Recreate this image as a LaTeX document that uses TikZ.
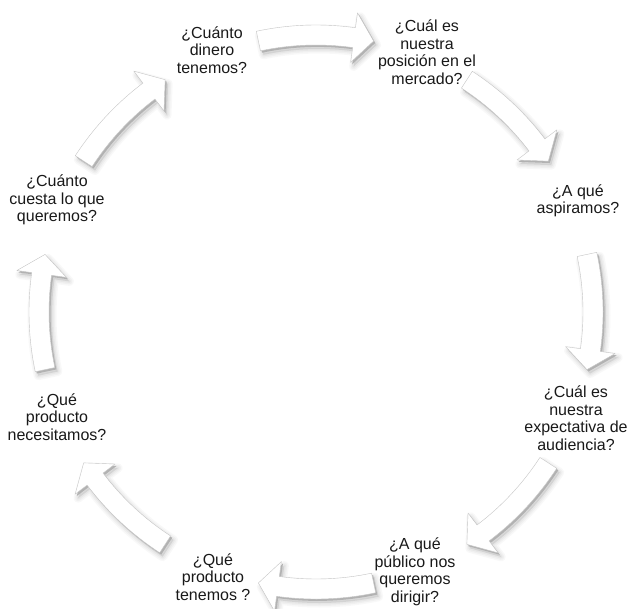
\documentclass[tikz,border=0pt]{standalone}
\usepackage{fontspec}
\setmainfont{Liberation Sans}
\usetikzlibrary{calc}
\tikzset{
  lbl/.style={align=center, font=\fontsize{16}{17.5}\selectfont, inner sep=0pt, text=black!90},
  arrshadow/.style={fill=gray, draw=gray, line join=round, shift={(3pt,-4pt)}},
  arrbevel/.style={fill=gray!60, shift={(1.6pt,-1.9pt)}},
  arrface/.style={fill=white, draw=gray!45, line width=0.4pt, line join=round},
}
\newcommand{\cycarrowpath}[1]{(#1+12:287pt) arc[start angle=#1+12, end angle=#1-7.9, radius=287pt] -- (#1-7.9:302pt) -- (#1-12:277pt) -- (#1-7.9:252pt) -- (#1-7.9:267pt) arc[start angle=#1-7.9, end angle=#1+12, radius=267pt] -- cycle}
\begin{document}
\begin{tikzpicture}[x=1pt,y=1pt]
\fill[white] (0,0) rectangle (631,-608);
\useasboundingbox (0,0) rectangle (631,-608);
\begin{scope}[shift={(316,-312)}]
\foreach \a in {90,45,0,-45,-90,-135,180,135} {
  \foreach \w/\o in {9/0.05,6/0.06,3/0.08} {
    \path[arrshadow, opacity=\o, line width=\w pt] \cycarrowpath{\a};
  }
  \path[arrbevel] \cycarrowpath{\a};
  \path[arrface] \cycarrowpath{\a};
}
\end{scope}
\node[lbl] (n1) at (212,-50) {¿Cuánto\\dinero\\tenemos?};
\node[lbl] (n2) at (427,-52) {¿Cuál es\\nuestra\\posición en el\\mercado?};
\node[lbl] (n3) at (578,-201) {¿A qué\\aspiramos?};
\node[lbl] (n4) at (576,-418) {¿Cuál es\\nuestra\\expectativa de\\audiencia?};
\node[lbl] (n5) at (415,-572) {¿A qué\\público nos\\queremos\\dirigir?};
\node[lbl] (n6) at (213,-577) {¿Qué\\producto\\tenemos ?};
\node[lbl] (n7) at (57,-417) {¿Qué\\producto\\necesitamos?};
\node[lbl] (n8) at (57,-200) {¿Cuánto\\cuesta lo que\\queremos?};
\end{tikzpicture}
\end{document}
